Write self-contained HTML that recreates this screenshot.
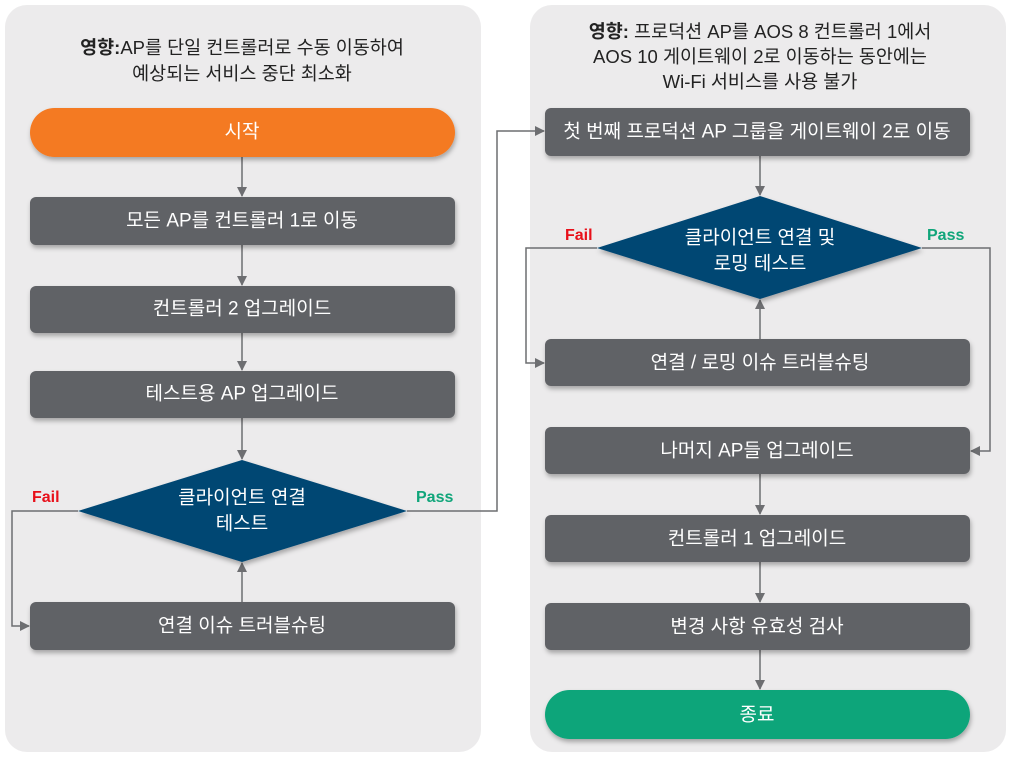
<!DOCTYPE html>
<html><head><meta charset="utf-8"><style>
html,body{margin:0;padding:0;background:#fff;}
svg{display:block;}
text{font-family:"Liberation Sans","Noto Sans CJK KR",sans-serif;}
.t{fill:#fff;font-size:19px;text-anchor:middle;dominant-baseline:central;}
.h{fill:#222;font-size:18.5px;text-anchor:middle;}
.l{stroke:#6d6e71;stroke-width:1.5;fill:none;}
.b{fill:#616266;}
</style></head><body>
<svg width="1024" height="765" viewBox="0 0 1024 765">
<defs>
<marker id="a" markerWidth="10" markerHeight="10" refX="9" refY="5" orient="auto" markerUnits="userSpaceOnUse"><path d="M0,0 L10,5 L0,10 z" fill="#6d6e71"/></marker>
<filter id="s" x="-10%" y="-30%" width="120%" height="170%"><feDropShadow dx="1" dy="3" stdDeviation="2.5" flood-opacity="0.3"/></filter>
</defs>
<rect x="5" y="5" width="476" height="747" rx="22" fill="#ecebec"/>
<rect x="530" y="5" width="476" height="747" rx="22" fill="#ecebec"/>

<text class="h" x="242" y="54"><tspan font-weight="bold">영향:</tspan>AP를 단일 컨트롤러로 수동 이동하여</text>
<text class="h" x="242" y="80">예상되는 서비스 중단 최소화</text>
<text class="h" x="760" y="38"><tspan font-weight="bold">영향:</tspan> 프로덕션 AP를 AOS 8 컨트롤러 1에서</text>
<text class="h" x="760" y="63">AOS 10 게이트웨이 2로 이동하는 동안에는</text>
<text class="h" x="760" y="88">Wi-Fi 서비스를 사용 불가</text>

<path class="l" d="M242,157 V196" marker-end="url(#a)"/>
<path class="l" d="M242,245 V285" marker-end="url(#a)"/>
<path class="l" d="M242,333 V370" marker-end="url(#a)"/>
<path class="l" d="M242,418 V459" marker-end="url(#a)"/>
<path class="l" d="M242,602 V563" marker-end="url(#a)"/>
<path class="l" d="M78,511 H12 V626 H29" marker-end="url(#a)"/>
<path class="l" d="M407,511 H497 V131 H544" marker-end="url(#a)"/>
<path class="l" d="M760,156 V195" marker-end="url(#a)"/>
<path class="l" d="M760,339 V300" marker-end="url(#a)"/>
<path class="l" d="M597,248 H526 V363 H544" marker-end="url(#a)"/>
<path class="l" d="M922,248 H990 V451 H971" marker-end="url(#a)"/>
<path class="l" d="M760,474 V514" marker-end="url(#a)"/>
<path class="l" d="M760,562 V602" marker-end="url(#a)"/>
<path class="l" d="M760,650 V689" marker-end="url(#a)"/>

<g filter="url(#s)">
<rect x="30" y="108" width="425" height="49" rx="24.5" fill="#f47a20"/>
<rect class="b" x="30" y="197" width="425" height="48" rx="6"/>
<rect class="b" x="30" y="286" width="425" height="47" rx="6"/>
<rect class="b" x="30" y="371" width="425" height="47" rx="6"/>
<path d="M78,511 L242,460 L407,511 L242,562 z" fill="#004673"/>
<rect class="b" x="30" y="602" width="425" height="48" rx="6"/>
<rect class="b" x="545" y="108" width="425" height="48" rx="6"/>
<path d="M597,248 L760,196 L922,248 L760,299 z" fill="#004673"/>
<rect class="b" x="545" y="339" width="425" height="47" rx="6"/>
<rect class="b" x="545" y="427" width="425" height="47" rx="6"/>
<rect class="b" x="545" y="515" width="425" height="47" rx="6"/>
<rect class="b" x="545" y="603" width="425" height="47" rx="6"/>
<rect x="545" y="690" width="425" height="49" rx="24.5" fill="#10a57a"/>
</g>

<text class="t" x="242" y="132">시작</text>
<text class="t" x="242" y="221">모든 AP를 컨트롤러 1로 이동</text>
<text class="t" x="242" y="309">컨트롤러 2 업그레이드</text>
<text class="t" x="242" y="394">테스트용 AP 업그레이드</text>
<text class="t" x="242" y="498">클라이언트 연결</text>
<text class="t" x="242" y="524">테스트</text>
<text class="t" x="242" y="626">연결 이슈 트러블슈팅</text>
<text x="32" y="502" fill="#e8101a" font-size="16" font-weight="bold">Fail</text>
<text x="416" y="502" fill="#10a57a" font-size="16" font-weight="bold">Pass</text>

<text class="t" x="757" y="132">첫 번째 프로덕션 AP 그룹을 게이트웨이 2로 이동</text>
<text class="t" x="760" y="238">클라이언트 연결 및</text>
<text class="t" x="760" y="264">로밍 테스트</text>
<text class="t" x="760" y="363">연결 / 로밍 이슈 트러블슈팅</text>
<text class="t" x="757" y="451">나머지 AP들 업그레이드</text>
<text class="t" x="757" y="539">컨트롤러 1 업그레이드</text>
<text class="t" x="757" y="627">변경 사항 유효성 검사</text>
<text class="t" x="757" y="715">종료</text>
<text x="565" y="240" fill="#e8101a" font-size="16" font-weight="bold">Fail</text>
<text x="927" y="240" fill="#10a57a" font-size="16" font-weight="bold">Pass</text>
</svg>
</body></html>
